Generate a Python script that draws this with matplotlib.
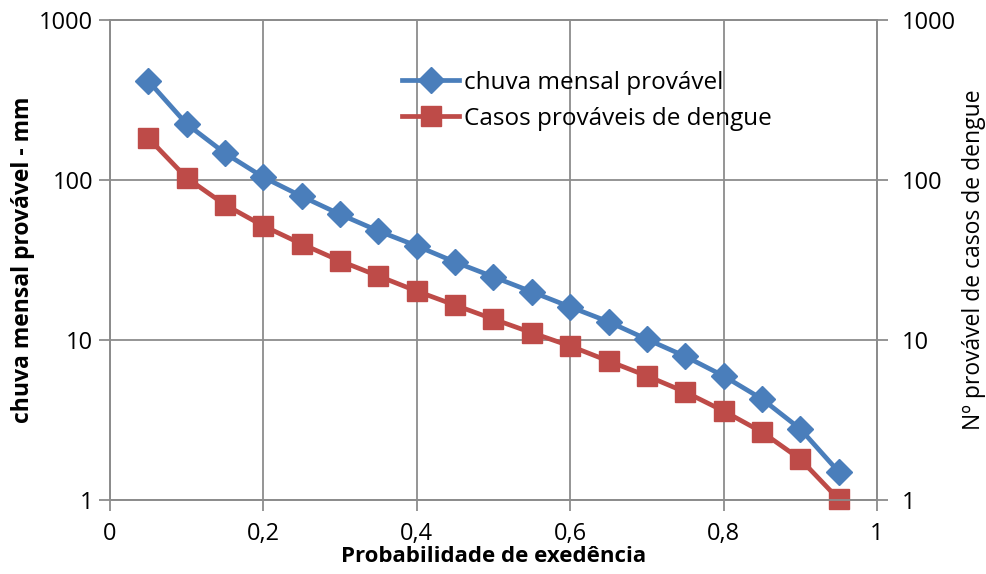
import matplotlib.pyplot as plt
from matplotlib.ticker import FixedLocator, FixedFormatter, NullLocator

# probabilidade de excedência e valores prováveis
prob = [0.05, 0.10, 0.15, 0.20, 0.25, 0.30, 0.35, 0.40, 0.45, 0.50,
        0.55, 0.60, 0.65, 0.70, 0.75, 0.80, 0.85, 0.90, 0.95]
chuva = [416, 224, 147, 104, 79, 61, 48, 38.7, 30.7, 24.8,
         20.0, 16.1, 13.0, 10.1, 7.9, 5.96, 4.28, 2.78, 1.5]
dengue = [183, 103, 70, 51.6, 39.8, 31.2, 25.1, 20.2, 16.5, 13.5,
          11.1, 9.17, 7.39, 5.96, 4.73, 3.6, 2.66, 1.8, 1.01]

x_ticks = [0, 0.2, 0.4, 0.6, 0.8, 1.0]
x_labels = ["0", "0,2", "0,4", "0,6", "0,8", "1"]
y_ticks = [1, 10, 100, 1000]
y_labels = ["1", "10", "100", "1000"]

plt.rcParams["font.family"] = ["Open Sans", "DejaVu Sans"]
grid_color = "#8c8c8c"

fig = plt.figure(figsize=(9.87, 5.74), dpi=100)
ax = fig.add_axes([0.1114, 0.1289, 0.7772, 0.8363])

ax.plot(prob, chuva, color="#4a7ebb", lw=3.4, marker="D", ms=13,
        label="chuva mensal provável", zorder=4, clip_on=False)
ax.plot(prob, dengue, color="#be4b48", lw=3.4, marker="s", ms=14,
        label="Casos prováveis de dengue", zorder=3, clip_on=False)

ax.set_yscale("log")
ax.set_xlim(0, 1)
ax.set_ylim(1, 1000)
ax.xaxis.set_major_locator(FixedLocator(x_ticks))
ax.xaxis.set_major_formatter(FixedFormatter(x_labels))
ax.yaxis.set_major_locator(FixedLocator(y_ticks))
ax.yaxis.set_major_formatter(FixedFormatter(y_labels))
ax.yaxis.set_minor_locator(NullLocator())
ax.grid(True, color=grid_color, lw=1.3)
ax.set_axisbelow(True)
for s in ax.spines.values():
    s.set_color(grid_color)
    s.set_linewidth(1.3)
ax.tick_params(axis="both", which="major", color=grid_color, width=1.3,
               length=8, labelsize=17, pad=4)
ax.tick_params(axis="x", pad=8)

ax.set_xlabel("Probabilidade de exedência", fontsize=16, fontweight="bold",
              labelpad=0)
ax.set_ylabel("chuva mensal provável - mm", fontsize=16.5, fontweight="bold",
              labelpad=3)

ax2 = ax.twinx()
ax2.set_yscale("log")
ax2.set_ylim(1, 1000)
ax2.yaxis.set_major_locator(FixedLocator(y_ticks))
ax2.yaxis.set_major_formatter(FixedFormatter(y_labels))
ax2.yaxis.set_minor_locator(NullLocator())
for s in ax2.spines.values():
    s.set_color(grid_color)
    s.set_linewidth(1.3)
ax2.tick_params(axis="y", which="major", color=grid_color, width=1.3,
                length=8, labelsize=17, pad=10)
ax2.set_ylabel("Nº provável de casos de dengue", fontsize=16.5, labelpad=4)

leg = ax.legend(loc="upper left", bbox_to_anchor=(0.368, 0.915), frameon=False,
                fontsize=17.5, handlelength=2.35, handletextpad=0.2,
                labelspacing=0.5, borderaxespad=0)

fig.savefig("out.png", dpi=100)
